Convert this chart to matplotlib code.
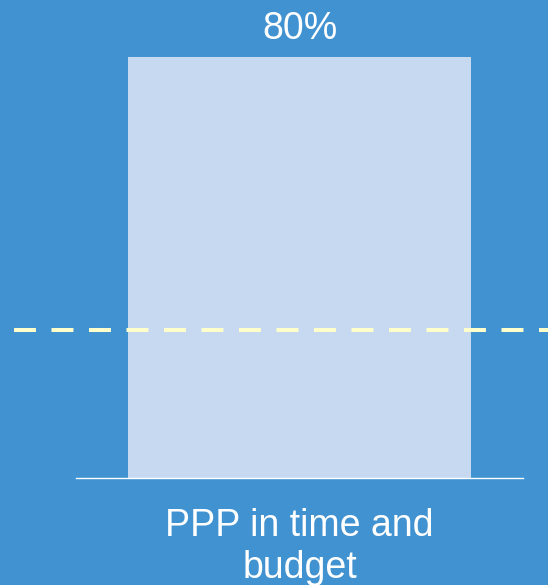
import matplotlib.pyplot as plt

# data
categories = ['PPP in time and\nbudget']
values = [80]
target = 28.2

bg = '#4192d1'
plt.rcParams['font.family'] = ['Liberation Sans', 'DejaVu Sans']
plt.rcParams['lines.scale_dashes'] = False

fig = plt.figure(figsize=(5.48, 5.85), dpi=100, facecolor=bg)
ax = fig.add_axes([76 / 548, 107 / 585, 447 / 548, 421 / 585])
ax.set_facecolor(bg)

xs = list(range(len(categories)))
bars = ax.bar(xs, values, width=1.0, color='#c6d9f0', zorder=2)
ax.set_xlim(-0.65, 0.65)
ax.set_ylim(0, 80)

# value labels above the bars
for b, v in zip(bars, values):
    ax.annotate(f'{v}%', (b.get_x() + b.get_width() / 2, v),
                xytext=(0, 13), textcoords='offset points',
                ha='center', va='baseline', color='white', fontsize=27,
                annotation_clip=False)

# category labels under the baseline (baseline of the last line)
for x, c in zip(xs, categories):
    ax.annotate(c, (x, 0), xytext=(0, -72), textcoords='offset points',
                ha='center', va='baseline', color='white', fontsize=27,
                linespacing=1.2, annotation_clip=False)

# target line running past the axes
ax.hlines(target, -0.83, 0.9, colors='#ffffcc', linewidth=2.9,
          linestyles=(0, (15.8, 11.2)), clip_on=False, zorder=3)

for s in ['top', 'left', 'right']:
    ax.spines[s].set_visible(False)
ax.spines['bottom'].set_color('white')
ax.spines['bottom'].set_linewidth(1.0)
ax.set_xticks([])
ax.set_yticks([])

fig.savefig('out.png', dpi=100, facecolor=bg)
